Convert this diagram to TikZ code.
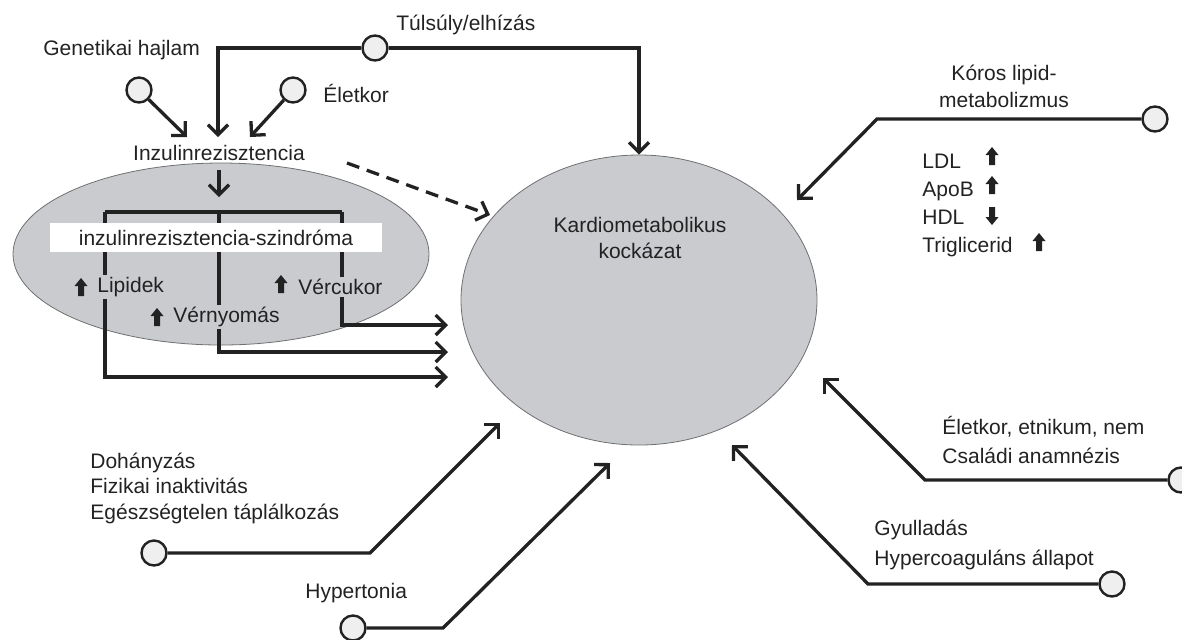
\documentclass[tikz,border=0pt]{standalone}
\usepackage{fontspec}
\setmainfont{Liberation Sans}
\usetikzlibrary{arrows.meta,shapes.geometric}
\definecolor{cgray}{HTML}{C9CBCE}
\definecolor{cink}{HTML}{222222}
\definecolor{cdot}{HTML}{EFEFEF}

\begin{document}
\begin{tikzpicture}[x=0.5pt,y=-0.5pt,font=\fontsize{10.5}{13}\selectfont,text=cink,
    >={Straight Barb[length=5pt,width=10pt]},
    link/.style={draw=cink,line width=1.65pt},
    dot/.style={circle,draw=cink,line width=1.2pt,fill=cdot,minimum size=12.5pt,inner sep=0pt},
    blob/.style={ellipse,fill=cgray,draw=cgray!55!black,line width=0.4pt,inner sep=0pt},
    lbl/.style={inner sep=0pt,anchor=west,align=left},
    tag/.style={lbl,fill=cgray,inner sep=1pt},
    uparr/.pic={\fill[cink] (-3,9) -- (-3,-1) -- (-6.5,-1) -- (0,-9) -- (6.5,-1) -- (3,-1) -- (3,9) -- cycle;},
    dnarr/.pic={\fill[cink] (-3,-9) -- (-3,1) -- (-6.5,1) -- (0,9) -- (6.5,1) -- (3,1) -- (3,-9) -- cycle;}]
    \useasboundingbox (0,0) rectangle (1182,639);
    % ---- the two ellipses
    \node[blob,minimum width=208pt,minimum height=91pt] (irs) at (221,254) {};
    \node[blob,minimum width=178pt,minimum height=145pt] (kr) at (639,300) {};
    \node[align=center,inner sep=0pt] (krt) at (640,238) {Kardiometabolikus\\kockázat};
    % ---- top inputs: Genetikai hajlam, Eletkor, Tulsuly
    \node[dot] (cg) at (139,90) {};
    \node[dot] (ce) at (293,90) {};
    \node[dot] (ct) at (375,48) {};
    \coordinate (tg) at (187,137);
    \coordinate (tt) at (218,137);
    \coordinate (te) at (250,137);
    \draw[link,->] (cg) -- (tg);
    \draw[link,->] (ce) -- (te);
    \draw[link,->] (ct) -| (tt);
    \draw[link,->] (ct) -| (kr);
    \node[lbl] (gen) at (43,50) {Genetikai hajlam};
    \node[lbl] (elet) at (323,93) {Életkor};
    \node[lbl] (tuls) at (396,25) {Túlsúly/elhízás};
    \node[inner sep=0pt] (ir) at (219,153) {Inzulinrezisztencia};
    % dashed link to the risk
    \coordinate (ds) at (347,163);
    \coordinate (dt) at (490,215);
    \draw[link,->,dash pattern=on 6.5pt off 4pt] (ds) -- (dt);
    % ---- syndrome bracket
    \coordinate (irb) at (219,170);
    \coordinate (irt) at (219,197);
    \coordinate (bl) at (105,212);
    \coordinate (bm) at (219,212);
    \coordinate (br) at (342,212);
    \coordinate (ol) at (448,377);
    \coordinate (om) at (448,352);
    \coordinate (or) at (448,325);
    \draw[link,->] (irb) -- (irt);
    \draw[link] (bl) -- (br);
    \draw[link,->] (bl) |- (ol);
    \draw[link,->] (bm) |- (om);
    \draw[link,->] (br) |- (or);
    \node[fill=white,minimum width=166pt,minimum height=14.5pt,inner sep=0pt] (szb) at (216,237.5) {inzulinrezisztencia-szindróma};
    \node[tag] (lip) at (95,287) {Lipidek};
    \node[tag] (vny) at (171,317) {Vérnyomás};
    \node[tag] (vcu) at (296,287) {Vércukor};
    \pic at (81,287) {uparr};
    \pic at (157,317) {uparr};
    \pic at (281,284) {uparr};
    % ---- right: lipid metabolism
    \node[dot] (ck) at (1155,119) {};
    \coordinate (kc) at (877,119);
    \coordinate (kt) at (797,200);
    \draw[link,->] (ck) -- (kc) -- (kt);
    \node[align=center,inner sep=0pt,font=\fontsize{10.5}{13.5}\selectfont] (kor) at (1004,86) {Kóros lipid-\\metabolizmus};
    \node[lbl,font=\fontsize{10.5}{14}\selectfont] (lpl) at (922,205) {LDL\\ApoB\\HDL\\Triglicerid};
    \pic at (992,156) {uparr};
    \pic at (992,185) {uparr};
    \pic at (992,216) {dnarr};
    \pic at (1039,242) {uparr};
    % ---- right: age and family history, inflammation
    \node[dot] (cel) at (1181,480) {};
    \coordinate (ec) at (925,480);
    \coordinate (et) at (823,378);
    \draw[link,->] (cel) -- (ec) -- (et);
    \node[lbl,font=\fontsize{10.5}{14.5}\selectfont] (etn) at (942,440) {Életkor, etnikum, nem\\Családi anamnézis};
    \node[dot] (cgy) at (1112,584) {};
    \coordinate (gc) at (868,584);
    \coordinate (gt) at (732,445);
    \draw[link,->] (cgy) -- (gc) -- (gt);
    \node[lbl,font=\fontsize{10.5}{15}\selectfont] (gyu) at (874,545) {Gyulladás\\Hypercoaguláns állapot};
    % ---- bottom left: lifestyle, hypertonia
    \node[dot] (cdo) at (154,553) {};
    \coordinate (dc) at (370,553);
    \coordinate (dtp) at (500,423);
    \draw[link,->] (cdo) -- (dc) -- (dtp);
    \node[lbl,font=\fontsize{10.5}{12.75}\selectfont] (doh) at (90,488) {Dohányzás\\Fizikai inaktivitás\\Egészségtelen táplálkozás};
    \node[dot] (chy) at (353,628) {};
    \coordinate (hc) at (443,628);
    \coordinate (ht) at (610,463);
    \draw[link,->] (chy) -- (hc) -- (ht);
    \node[lbl] (hyp) at (305,593) {Hypertonia};
\end{tikzpicture}
\end{document}
